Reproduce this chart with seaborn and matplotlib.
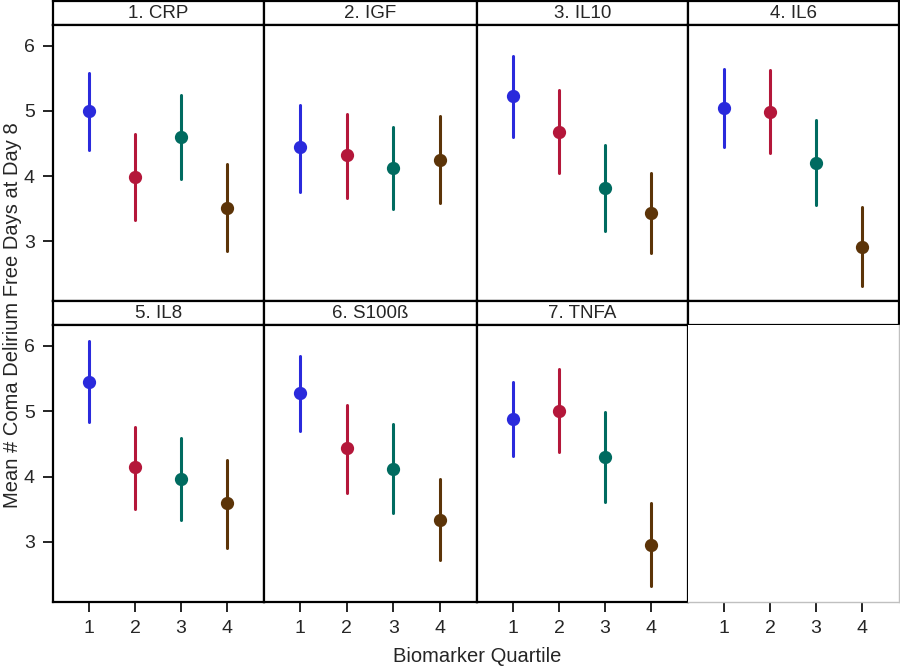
import numpy as np
import pandas as pd
import matplotlib
matplotlib.use("Agg")
import matplotlib.pyplot as plt
import seaborn as sns

biomarkers = ["1. CRP", "2. IGF", "3. IL10", "4. IL6", "5. IL8", "6. S100ß", "7. TNFA"]
quartiles = ["1", "2", "3", "4"]
means = [
    [5.00, 3.98, 4.60, 3.51],
    [4.44, 4.32, 4.13, 4.25],
    [5.23, 4.68, 3.82, 3.43],
    [5.04, 4.99, 4.20, 2.91],
    [5.45, 4.14, 3.96, 3.59],
    [5.28, 4.43, 4.12, 3.34],
    [4.88, 5.00, 4.30, 2.96],
]
lower = [
    [4.40, 3.32, 3.96, 2.85],
    [3.76, 3.67, 3.50, 3.58],
    [4.60, 4.04, 3.15, 2.81],
    [4.45, 4.35, 3.55, 2.31],
    [4.84, 3.51, 3.34, 2.91],
    [4.70, 3.75, 3.44, 2.72],
    [4.31, 4.37, 3.61, 2.33],
]
upper = [
    [5.59, 4.64, 5.24, 4.18],
    [5.09, 4.96, 4.76, 4.92],
    [5.85, 5.32, 4.48, 4.04],
    [5.64, 5.63, 4.86, 3.52],
    [6.07, 4.76, 4.59, 4.26],
    [5.85, 5.10, 4.80, 3.96],
    [5.44, 5.64, 4.99, 3.59],
]
colors = ["#2A2ADC", "#B4173A", "#006B60", "#5C3408"]
y_ticks = [3, 4, 5, 6]

# long table: lower / mean / upper per group -> median = mean, range = CI
rows = []
for b, m, lo, hi in zip(biomarkers, means, lower, upper):
    for q, mv, lv, hv in zip(quartiles, m, lo, hi):
        for v in (lv, mv, hv):
            rows.append({"biomarker": b, "quartile": q, "value": v})
df = pd.DataFrame(rows)

sns.set_theme(style="white")
plt.rcParams["font.family"] = ["Liberation Sans", "DejaVu Sans"]

W, H = 900, 667
fig = plt.figure(figsize=(9, 6.67), dpi=100)

col_left = [53, 264, 477, 688]
col_w = [211, 213, 211, 211]
row_head_top = [1, 301]
head_h = 24
plot_h = [276, 277]

ylim = (2.08, 6.32)
xlim = (-0.78, 3.8)

def fr(x, y, w, h):
    return [x / W, 1 - (y + h) / H, w / W, h / H]

lw_border = 1.6
for i in range(8):
    r, c = divmod(i, 4)
    x0 = col_left[c]
    w = col_w[c]
    ytop = row_head_top[r]
    hax = fig.add_axes(fr(x0, ytop, w, head_h))
    hax.set_xticks([]); hax.set_yticks([])
    for s in hax.spines.values():
        s.set_color("black"); s.set_linewidth(lw_border)
    if i < len(biomarkers):
        hax.text(0.5, 0.5, biomarkers[i], ha="center", va="center",
                 fontsize=13.5, transform=hax.transAxes)
    ax = fig.add_axes(fr(x0, ytop + head_h, w, plot_h[r]))
    if i < len(biomarkers):
        sub = df[df["biomarker"] == biomarkers[i]]
        sns.pointplot(data=sub, x="quartile", y="value", hue="quartile",
                      order=quartiles, hue_order=quartiles, palette=colors,
                      estimator="median",
                      errorbar=lambda v: (v.min(), v.max()),
                      markers="o", linestyles="none", markersize=7.5,
                      err_kws={"linewidth": 2.2}, legend=False, ax=ax)
        for s in ax.spines.values():
            s.set_color("black"); s.set_linewidth(lw_border)
    else:
        ax.set_facecolor("white")
        for s in ax.spines.values():
            s.set_color("#c0c0c0"); s.set_linewidth(1.0)
        ax.spines["left"].set_visible(False)
        ax.spines["top"].set_visible(False)
    ax.set_xlim(*xlim)
    ax.set_ylim(*ylim)
    ax.set_xlabel(""); ax.set_ylabel("")
    ax.set_xticks(range(4))
    ax.set_yticks(y_ticks)
    ax.tick_params(axis="both", which="both", direction="out", length=7,
                   width=1.2, color="black", labelsize=14, pad=6,
                   bottom=(r == 1), left=(c == 0),
                   labelbottom=(r == 1), labelleft=(c == 0))
    if r == 1:
        ax.set_xticklabels(quartiles)
    if c == 0:
        ax.set_yticklabels([str(t) for t in y_ticks])

fig.text(477 / W, 1 - 656 / H, "Biomarker Quartile", ha="center", va="center", fontsize=14.5)
fig.text(13 / W, 1 - 315 / H, "Mean # Coma Delirium Free Days at Day 8",
         ha="center", va="center", rotation=90, fontsize=14.5)

fig.savefig("out.png", dpi=100, facecolor="white")
